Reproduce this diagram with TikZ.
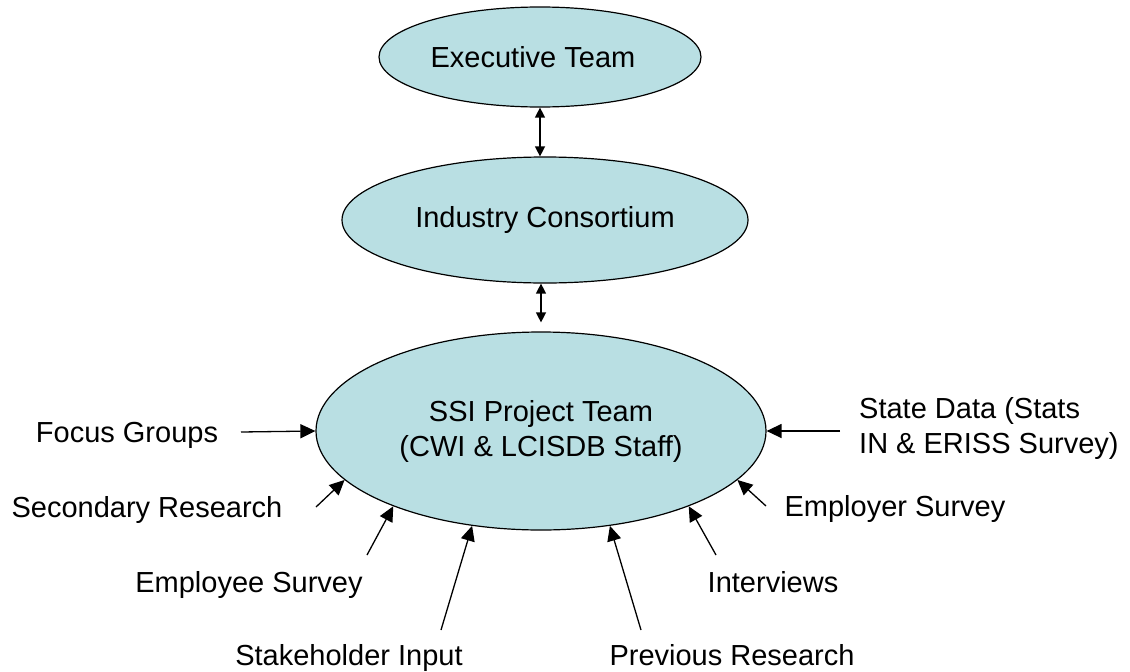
\documentclass[tikz,border=0pt]{standalone}
\usepackage{fontspec}
\setmainfont{Liberation Sans}
\usetikzlibrary{arrows.meta,shapes.geometric}
\definecolor{bubble}{RGB}{185,223,227}
\tikzset{
  bubble/.style={ellipse, draw=black, line width=1.2pt, fill=bubble, inner sep=0pt,
    font=\fontsize{29}{35}\selectfont, align=center},
  lbl/.style={inner sep=0pt, font=\fontsize{29}{35}\selectfont, anchor=base},
  arr/.style={line width=1.3pt, -{Triangle[length=15pt,width=14pt]}},
  darr/.style={line width=1.3pt, {Triangle[length=10pt,width=10pt]}-{Triangle[length=10pt,width=10pt]}}
}
\begin{document}
\begin{tikzpicture}[x=1pt,y=-1pt]
\useasboundingbox (0,0) rectangle (1130,672);
% ellipses
\node[bubble, minimum width=322pt, minimum height=100pt] (exec) at (540,57) {Executive Team\hspace*{14pt}};
\node[bubble, minimum width=406pt, minimum height=126pt] (ind) at (545,220) {Industry Consortium};
\node[bubble, minimum width=450pt, minimum height=198pt] (ssi) at (541,431) {SSI Project Team\\(CWI \& LCISDB Staff)};
% labels
\node[lbl] (focus) at (127,442) {Focus Groups};
\node[lbl] (second) at (147,517) {Secondary Research};
\node[lbl] (employee) at (249,592) {Employee Survey};
\node[lbl] (stake) at (349,665) {Stakeholder Input};
\node[lbl] (prev) at (732,665) {Previous Research};
\node[lbl] (interv) at (773,592) {Interviews};
\node[lbl] (employer) at (895,516) {Employer Survey};
\node[inner sep=0pt, font=\fontsize{29}{35}\selectfont, align=left, anchor=west] (state) at (859,428) {State Data (Stats\\IN \& ERISS Survey)};
% arrow tails
\coordinate (tfocus) at (241,432);
\coordinate (tsecond) at (316,507);
\coordinate (temployee) at (367,555);
\coordinate (tstake) at (441,630);
\coordinate (tprev) at (641,630);
\coordinate (tinterv) at (716,555);
\coordinate (temployer) at (766,506);
\coordinate (tstate) at (840,431);
% connectors
\draw[darr] (exec.south) -- (exec.south |- ind.north);
\draw[darr] (ind.south -| ssi.north) -- ([yshift=9pt]ssi.north);
\draw[arr] (tfocus) -- (ssi.west);
\draw[arr] (tsecond) -- (ssi.194);
\draw[arr] (temployee) -- (ssi.207);
\draw[arr] (tstake) -- (ssi.234);
\draw[arr] (tprev) -- (ssi.306);
\draw[arr] (tinterv) -- (ssi.333);
\draw[arr] (temployer) -- (ssi.346);
\draw[arr] (tstate) -- (ssi.east);
\end{tikzpicture}
\end{document}
